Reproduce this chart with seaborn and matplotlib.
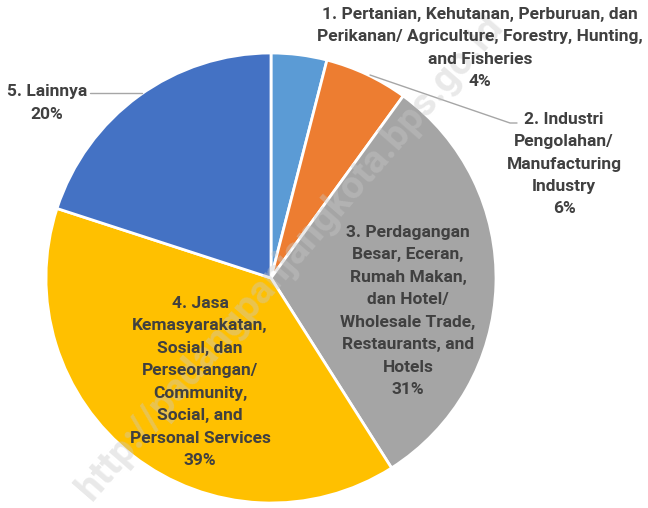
import matplotlib.pyplot as plt
import seaborn as sns

# sektor lapangan usaha
sektor = [
    "1. Pertanian, Kehutanan, Perburuan, dan\nPerikanan/ Agriculture, Forestry, Hunting,\nand Fisheries",
    "2. Industri\nPengolahan/\nManufacturing\nIndustry",
    "3. Perdagangan\nBesar, Eceran,\nRumah Makan,\ndan Hotel/\nWholesale Trade,\nRestaurants, and\nHotels",
    "4. Jasa\nKemasyarakatan,\nSosial, dan\nPerseorangan/\nCommunity,\nSocial, and\nPersonal Services",
    "5. Lainnya",
]
persen = [4, 6, 31, 39, 20]
warna = ["#5B9BD5", "#ED7D31", "#A5A5A5", "#FFC000", "#4472C4"]

sns.set_theme(style="white")
plt.rcParams["font.family"] = ["Roboto", "DejaVu Sans"]

W, H = 648, 508
fig = plt.figure(figsize=(W / 100, H / 100), dpi=100)
ax = fig.add_axes([0, 0, 1, 1])

cx, cy, r = 271, H - 278, 225
ax.pie(persen, colors=warna, startangle=90, counterclock=False,
       center=(cx, cy), radius=r, frame=True,
       wedgeprops=dict(edgecolor="white", linewidth=2))
ax.set_xlim(0, W)
ax.set_ylim(0, H)
ax.set_aspect("equal")
ax.axis("off")

# watermark
ax.text(290, 250, "http://padangpanjangkota.bps.go.id", rotation=49,
        ha="center", va="center", fontsize=28, fontweight="bold",
        color="#C8C8C8", alpha=0.4)

# posisi label (piksel)
pos = [(480, 48), (564, 164), (408, 311), (200, 382), (47, 103)]
txt_col = "#404040"
for lab, p, (x, y) in zip(sektor, persen, pos):
    ax.text(x, H - y, f"{lab}\n{p}%", ha="center", va="center",
            fontsize=12.5, fontweight="bold", color=txt_col, linespacing=1.62)

# garis penunjuk
ax.plot([370, 510, 517], [H - 75, H - 123, H - 123], color="#A6A6A6", lw=1)
ax.plot([90, 142], [H - 93, H - 93], color="#A6A6A6", lw=1)

fig.savefig("out.png", dpi=100)
